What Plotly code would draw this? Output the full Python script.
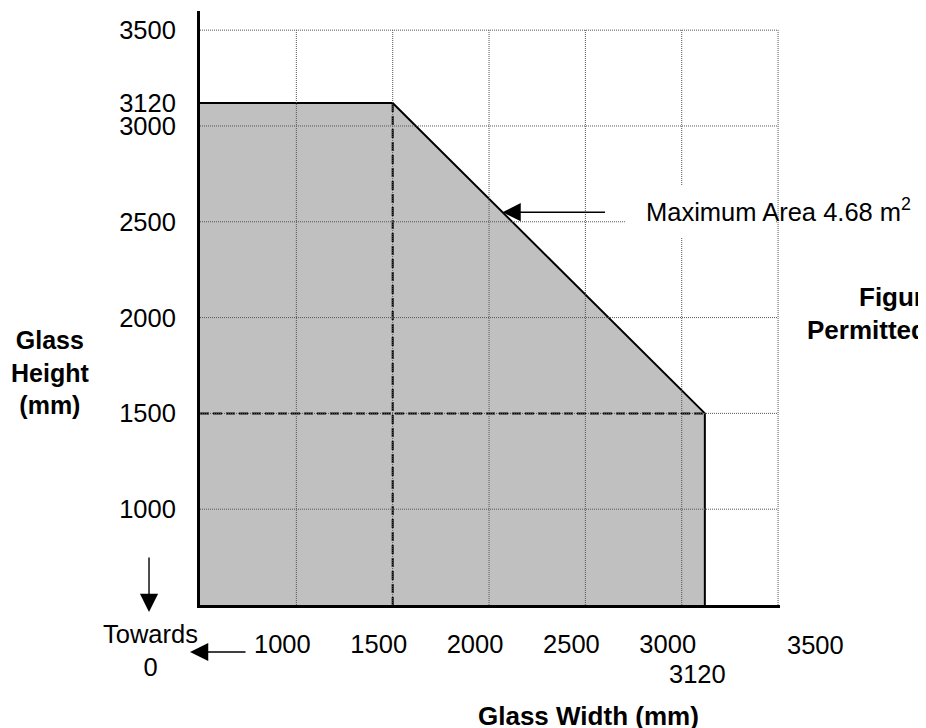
import plotly.graph_objects as go

# ---------------- data ----------------
width_ticks = [1000, 1500, 2000, 2500, 3000]
width_extra_tick = 3500
width_limit_tick = 3120
height_ticks = [1000, 1500, 2000, 2500, 3000, 3120, 3500]
grid_values = [1000, 1500, 2000, 2500, 3000, 3500]

axis_min = 500
max_dim = 3120          # max width / max height (mm)
corner_dim = 1500       # width at which height starts to drop, and min height at max width
area_text = "Maximum Area 4.68 m<sup>2</sup>"

boundary_w = [axis_min, axis_min, corner_dim, max_dim, max_dim]
boundary_h = [axis_min, max_dim, max_dim, corner_dim, axis_min]

arrow_height = 2550     # height where the area arrow meets the diagonal

# ---------------- style ----------------
FONT = "Liberation Sans, Arial, Helvetica, sans-serif"
TICK_SIZE = 25.5
BOLD_SIZE = 26

fig = go.Figure()

# filled permitted region
fig.add_trace(go.Scatter(
    x=boundary_w + [boundary_w[0]], y=boundary_h + [boundary_h[0]],
    mode="lines", fill="toself", fillcolor="#c0c0c0",
    line=dict(width=0, color="rgba(0,0,0,0)"), hoverinfo="skip", showlegend=False))

# outline (top, diagonal, right edge)
fig.add_trace(go.Scatter(
    x=boundary_w[1:], y=boundary_h[1:], mode="lines",
    line=dict(color="black", width=2), hoverinfo="skip", showlegend=False))

# dashed guide lines
fig.add_trace(go.Scatter(
    x=[corner_dim, corner_dim], y=[max_dim, axis_min], mode="lines",
    line=dict(color="black", width=2, dash="9px,4px"), hoverinfo="skip", showlegend=False))
fig.add_trace(go.Scatter(
    x=[axis_min, max_dim], y=[corner_dim, corner_dim], mode="lines",
    line=dict(color="black", width=2, dash="9px,4px"), hoverinfo="skip", showlegend=False))

shapes = []
grid_line = dict(color="#555555", width=1, dash="1px,1px")
for g in grid_values:
    shapes.append(dict(type="line", xref="x", yref="y", x0=axis_min, x1=grid_values[-1],
                       y0=g, y1=g, line=grid_line, layer="above"))
    shapes.append(dict(type="line", xref="x", yref="y", x0=g, x1=g,
                       y0=axis_min, y1=grid_values[-1], line=grid_line, layer="above"))
# white mask behind the area label (covers grid up to, not including, the 3500 line)
shapes.append(dict(type="rect", xref="x", yref="y", x0=2705, x1=3490, y0=2421, y1=2692,
                   fillcolor="white", line=dict(width=0), layer="above"))

annotations = []
# extra x labels
annotations.append(dict(x=width_extra_tick, xref="x", y=0, yref="paper", text=str(width_extra_tick),
                        showarrow=False, xanchor="center", yanchor="middle", xshift=37, yshift=-40,
                        font=dict(size=TICK_SIZE, color="black", family=FONT)))
annotations.append(dict(x=width_limit_tick, xref="x", y=0, yref="paper", text=str(width_limit_tick),
                        showarrow=False, xanchor="center", yanchor="middle", xshift=-7, yshift=-69,
                        font=dict(size=TICK_SIZE, color="black", family=FONT)))

# maximum area arrow + label
arrow_x = corner_dim + (max_dim - corner_dim) * (max_dim - arrow_height) / (max_dim - corner_dim)
arrow_style = dict(arrowhead=2, arrowsize=2.6, arrowwidth=1.4, arrowcolor="black")
annotations.append(dict(x=arrow_x, y=arrow_height, xref="x", yref="y", text="",
                        showarrow=True, ax=104, ay=0, axref="pixel", ayref="pixel", **arrow_style))
annotations.append(dict(x=arrow_x, y=arrow_height, xref="x", yref="y", text=area_text,
                        showarrow=False, xanchor="left", yanchor="middle", xshift=141, yshift=2,
                        font=dict(size=TICK_SIZE, color="black", family=FONT)))

# towards 0 arrows and text
annotations.append(dict(x=-0.0879, y=-0.0118, xref="paper", yref="paper", text="",
                        showarrow=True, ax=0, ay=-56, axref="pixel", ayref="pixel", **arrow_style))
annotations.append(dict(x=-0.0172, y=-0.0791, xref="paper", yref="paper", text="",
                        showarrow=True, ax=57, ay=0, axref="pixel", ayref="pixel", **arrow_style))
annotations.append(dict(x=-0.0862, y=-0.0758, xref="paper", yref="paper", text="Towards<br>0",
                        showarrow=False, xanchor="center", yanchor="middle",
                        font=dict(size=TICK_SIZE, color="black", family=FONT)))

# axis titles
annotations.append(dict(x=-0.2586, y=0.392, xref="paper", yref="paper",
                        text="<b>Glass<br>Height<br>(mm)</b>", showarrow=False,
                        xanchor="center", yanchor="middle",
                        font=dict(size=BOLD_SIZE - 1, color="black", family=FONT)))
annotations.append(dict(x=0.669, y=-0.187, xref="paper", yref="paper",
                        text="<b>Glass Width (mm)</b>", showarrow=False,
                        xanchor="center", yanchor="middle",
                        font=dict(size=BOLD_SIZE, color="black", family=FONT)))

# clipped figure caption on the right
annotations.append(dict(x=1.1328, y=0.5185, xref="paper", yref="paper", text="<b>Figure</b>",
                        showarrow=False, xanchor="left", yanchor="middle",
                        font=dict(size=BOLD_SIZE, color="black", family=FONT)))
annotations.append(dict(x=1.0431, y=0.463, xref="paper", yref="paper", text="<b>Permitted</b>",
                        showarrow=False, xanchor="left", yanchor="middle",
                        font=dict(size=BOLD_SIZE, color="black", family=FONT)))

# page body has an 8px margin, so the figure is shifted 8px up/left accordingly
fig.update_layout(
    width=926, height=720,
    margin=dict(l=192, r=154, t=3, b=123, pad=0),
    paper_bgcolor="white", plot_bgcolor="white",
    showlegend=False,
    font=dict(family=FONT, color="black", size=TICK_SIZE),
    shapes=shapes, annotations=annotations,
    xaxis=dict(range=[axis_min, 3510], showgrid=False, zeroline=False,
               showline=True, linecolor="black", linewidth=3,
               tickmode="array", tickvals=width_ticks, ticktext=[str(v) for v in width_ticks],
               ticks="", ticklabelshift=-14, ticklabelstandoff=14,
               tickfont=dict(size=TICK_SIZE, color="black", family=FONT), fixedrange=True),
    yaxis=dict(range=[axis_min, 3600], showgrid=False, zeroline=False,
               showline=True, linecolor="black", linewidth=3,
               tickmode="array", tickvals=height_ticks, ticktext=[str(v) for v in height_ticks],
               ticks="", ticklabelstandoff=16,
               tickfont=dict(size=TICK_SIZE, color="black", family=FONT), fixedrange=True),
)

fig.write_html("out.html")
